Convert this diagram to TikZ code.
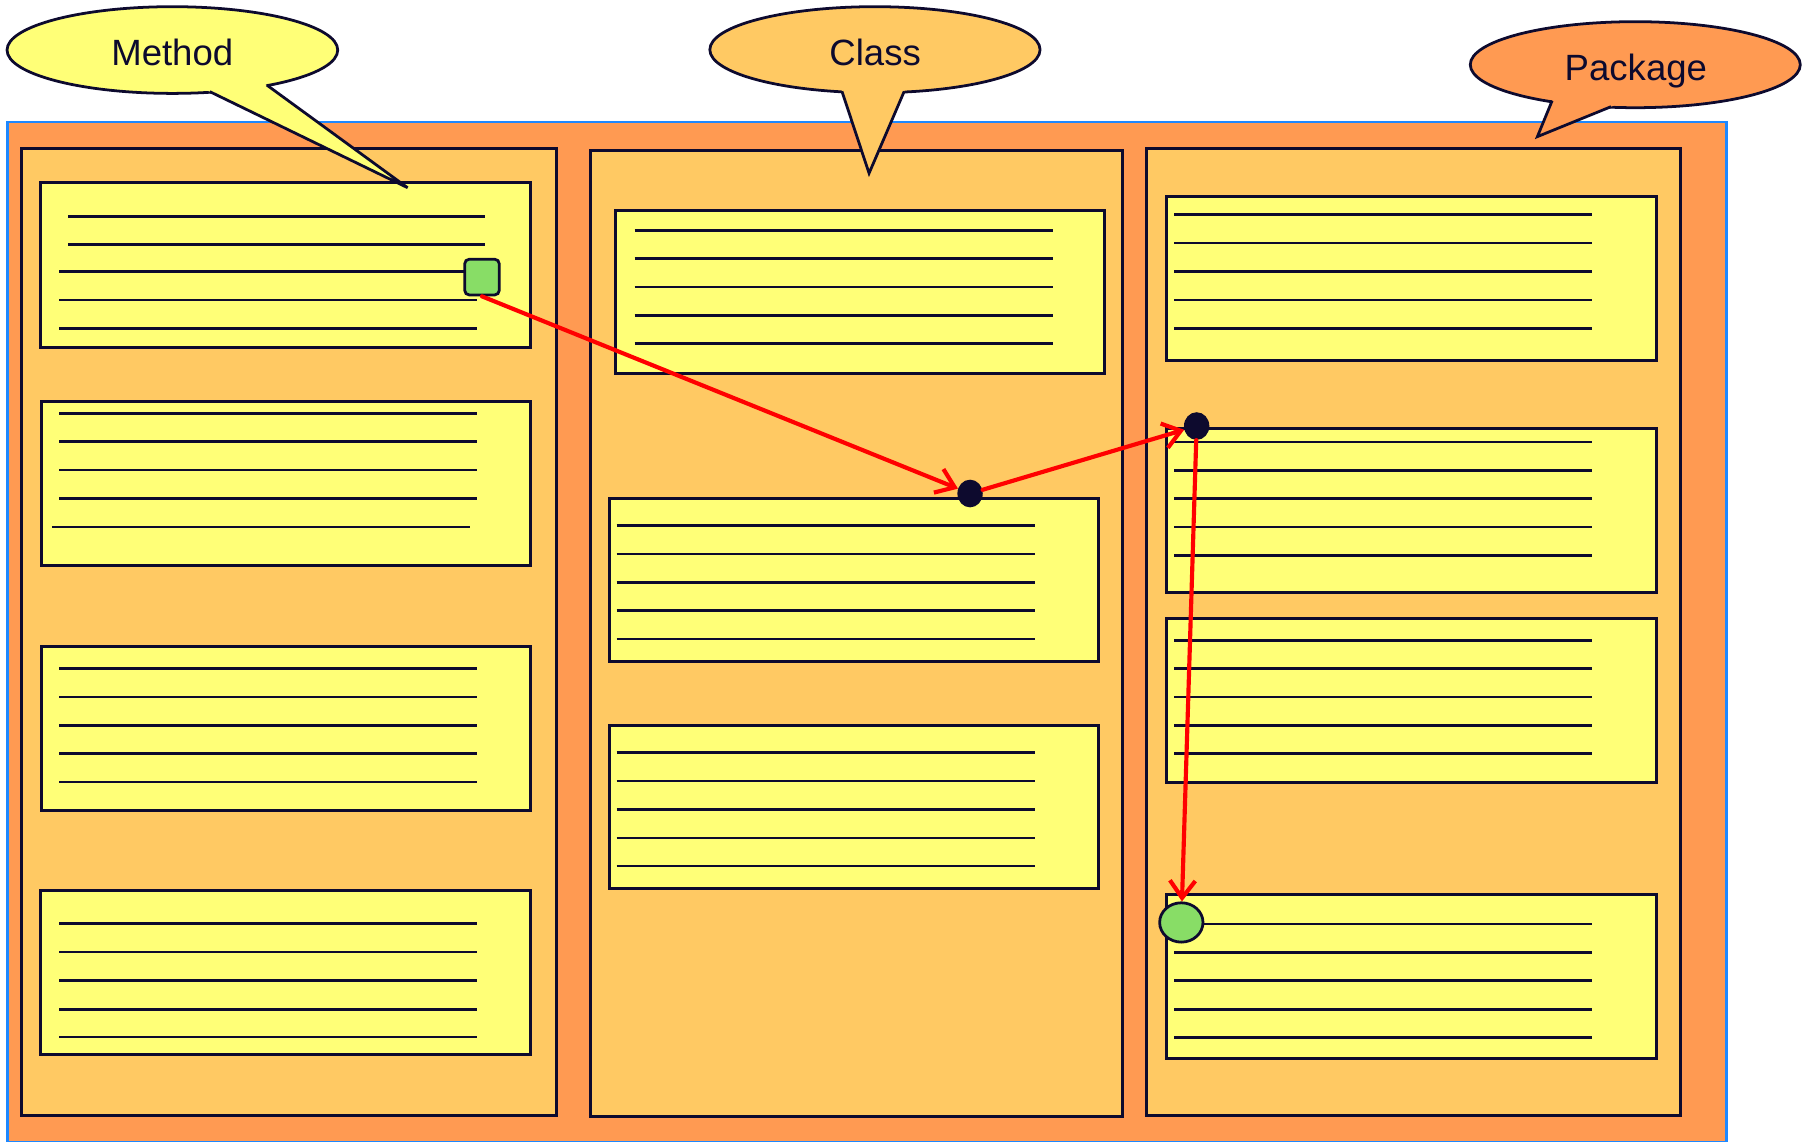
\documentclass[tikz,border=0pt]{standalone}
\usepackage{fontspec}
\setmainfont{Liberation Sans}
\usetikzlibrary{arrows.meta,shapes.geometric,calc,fit}

\definecolor{ink}{HTML}{0D0A2E}
\definecolor{noteyellow}{HTML}{FFFF77}
\definecolor{panelorange}{HTML}{FFC963}
\definecolor{outerorange}{HTML}{FF9A52}
\definecolor{frameblue}{HTML}{1E88FF}
\definecolor{markgreen}{HTML}{88DD66}
\definecolor{flowred}{HTML}{FF0000}

\tikzset{
  panel/.style={draw=ink, fill=panelorange, line width=2.6pt},
  note/.style={draw=ink, fill=noteyellow, line width=2.6pt, inner sep=0pt, outer sep=0pt},
  rule/.style={draw=ink, line width=2.2pt},
  flow/.style={draw=flowred, line width=3.6pt, line cap=round,
    -{Straight Barb[length=15pt,width=22pt]}},
  hub/.style={ellipse, fill=ink, minimum width=22pt, minimum height=24pt, inner sep=0pt},
  bubble/.style={draw=ink, line width=2.4pt, line join=miter},
  bubbletext/.style={font=\fontsize{31.7}{38}\selectfont, text=ink, anchor=base, inner sep=0pt},
}

% box with five ruled lines: name, x1, y1, x2, y2
\newcommand\notebox[5]{\node[note, fit={(#2,#3) (#4,#5)}] (#1) {};}
% ruled lines: x from, x to, list of y
\newcommand\noterules[3]{\foreach \yy in {#3} \draw[rule] (#1,\yy) -- (#2,\yy);}

\begin{document}
\begin{tikzpicture}[x=1pt, y=-1pt]
\clip (0,0) rectangle (1568,990);

% outer frame
\draw[fill=outerorange, draw=frameblue, line width=2.2pt] (6.6,105.8) rectangle (1497.4,991);

% three columns
\draw[panel] (18.9,129.2) rectangle (482.2,967.6);
\draw[panel] (512.3,130.1) rectangle (973.7,968);
\draw[panel] (994.5,129.2) rectangle (1457.7,967.6);

% method column
\notebox{m1}{35.5}{158.1}{460.3}{301.2}
\notebox{m2}{35.6}{347.8}{460.5}{490}
\notebox{m3}{35.6}{560.3}{460.5}{702.5}
\notebox{m4}{35.5}{772.7}{460.3}{914.9}

\node[draw=ink, fill=markgreen, line width=2.4pt, rounded corners=4pt,
      minimum width=30pt, minimum height=31pt, inner sep=0pt] (gsq) at (418,240.3) {};

\noterules{59.1}{420.9}{187.9,211.9}
\draw[rule] (51.5,235.6) -- (403.5,235.6);
\noterules{51.5}{413.9}{260.2,285}
\noterules{51.5}{414}{358.5,383,407.6,432.2}
\draw[rule] (45,457) -- (407.6,457);
\noterules{51.5}{414}{579.9,604.5,629,653.6,678.2}
\noterules{51.4}{413.9}{801.1,825.7,850.2,875.4,899.4}

% class column
\notebox{c1}{534.2}{182.4}{958.3}{323.8}
\notebox{c2}{529}{432.2}{952.6}{573.9}
\notebox{c3}{529}{629.4}{952.6}{770.4}
\noterules{550.4}{912.9}{199.8,224.3,248.9,273.5,298}
\noterules{534.8}{897.6}{455.9,480.5,505.3,529.6,554.2}
\noterules{534.8}{897.6}{652.8,677.4,701.9,726.8,751.1}

% package column
\notebox{p1}{1011.8}{170}{1436.8}{312.8}
\notebox{p2}{1011.8}{371.5}{1436.8}{513.7}
\notebox{p3}{1011.8}{536.8}{1436.8}{678.8}
\notebox{p4}{1011.9}{775.6}{1436.8}{918.2}
\noterules{1018.2}{1380.4}{186.2,210.8,235.3,260.2,284.8}
\noterules{1018.2}{1380.4}{383.3,407.9,432.5,457,481.6}
\noterules{1018.2}{1380.4}{555.3,579.9,604.5,629.1,653.6}
\draw[rule] (1030,801.4) -- (1380.3,801.4);
\noterules{1018.2}{1380.3}{825.9,850.5,875.4,899.6}

% call chain
\node[hub] (dot1) at (841.3,428) {};
\node[hub] (dot2) at (1037.8,369.5) {};
\node[ellipse, draw=ink, fill=markgreen, line width=2.4pt,
      minimum width=37.6pt, minimum height=34.1pt, inner sep=0pt] (gcirc) at (1024.5,800) {};

\draw[flow] (gsq.south) -- (dot1);
\draw[flow] (dot1) -- (dot2);
\draw[flow] (dot2) -- (gcirc);

% speech bubbles
% Method
\coordinate (mb1) at (182,79.5);
\coordinate (mb2) at (231.3,73.7);
\coordinate (mtip) at (353.5,162.8);
\draw[bubble, fill=noteyellow] (149.5,43.4) ellipse [x radius=143.4pt, y radius=37.6pt];
\fill[noteyellow] ($(mtip)!1.12!(mb1)$) -- (mtip) -- ($(mtip)!1.12!(mb2)$) -- cycle;
\draw[bubble] (mb1) -- (mtip) -- (mb2);
\node[bubbletext] (tmethod) at (149.4,57.2) {Method};

% Class
\coordinate (cb1) at (730.2,79.2);
\coordinate (cb2) at (784.2,79.2);
\coordinate (ctip) at (753.7,150.3);
\draw[bubble, fill=panelorange] (758.8,43.1) ellipse [x radius=143.2pt, y radius=37.3pt];
\fill[panelorange] ($(ctip)!1.15!(cb1)$) -- (ctip) -- ($(ctip)!1.15!(cb2)$) -- cycle;
\draw[bubble] (cb1) -- (ctip) -- (cb2);
\node[bubbletext] (tclass) at (759,57.2) {Class};

% Package
\coordinate (pb1) at (1346.1,87.3);
\coordinate (pb2) at (1397.2,92.5);
\coordinate (ptip) at (1333.3,118.5);
\draw[bubble, fill=outerorange] (1418.2,56.1) ellipse [x radius=143.1pt, y radius=37.3pt];
\fill[outerorange] ($(ptip)!1.3!(pb1)$) -- (ptip) -- ($(ptip)!1.3!(pb2)$) -- cycle;
\draw[bubble] (pb1) -- (ptip) -- (pb2);
\node[bubbletext] (tpackage) at (1418.7,69.4) {Package};

\end{tikzpicture}
\end{document}
